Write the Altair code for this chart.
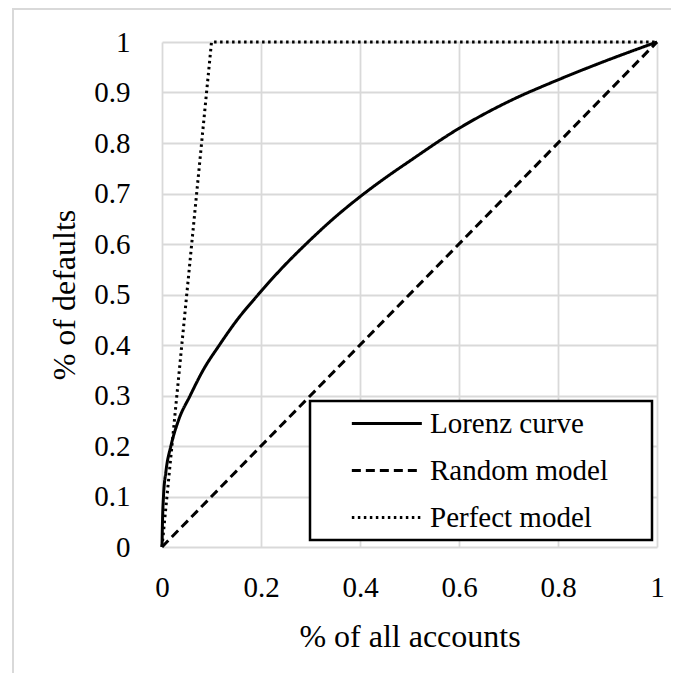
import altair as alt
import pandas as pd

# ---- data ----
series_names = ["Lorenz curve", "Random model", "Perfect model"]
lorenz_x = [0, 0.001, 0.003, 0.008, 0.018, 0.033, 0.057, 0.083, 0.116, 0.152, 0.191,
            0.245, 0.292, 0.346, 0.398, 0.447, 0.5, 0.6, 0.7, 0.8, 0.9, 1.0]
lorenz_y = [0, 0.05, 0.10, 0.15, 0.20, 0.25, 0.30, 0.35, 0.40, 0.45, 0.496,
            0.555, 0.601, 0.650, 0.692, 0.728, 0.764, 0.829, 0.882, 0.925, 0.964, 1.0]
random_x = [0, 1]
random_y = [0, 1]
perfect_x = [0, 0.1, 1]
perfect_y = [0, 1, 1]
x_ticks = [0, 0.2, 0.4, 0.6, 0.8, 1]
y_ticks = [0, 0.1, 0.2, 0.3, 0.4, 0.5, 0.6, 0.7, 0.8, 0.9, 1]

rows = []
for name, xs, ys in zip(series_names, [lorenz_x, random_x, perfect_x], [lorenz_y, random_y, perfect_y]):
    for i, (xv, yv) in enumerate(zip(xs, ys)):
        rows.append({"series": name, "x": xv, "y": yv, "i": i})
df = pd.DataFrame(rows)

FONT = "Liberation Serif"
GRID = "#d9d9d9"

legend_opts = dict(title=None, orient="none", legendX=187, legendY=367,
                   symbolType="M-1,0H5", symbolSize=544.4,
                   symbolStrokeWidth=3, labelOffset=52, labelLimit=400,
                   rowPadding=17, padding=0,
                   labelFont=FONT, labelFontSize=29, labelColor="black")

enc = dict(
    x=alt.X("x:Q", scale=alt.Scale(domain=[0, 1], nice=False),
            axis=alt.Axis(values=x_ticks, format="~g", title="% of all accounts",
                          grid=True, ticks=False, tickSize=0, domain=False, labelFlush=False,
                          labelPadding=26, titlePadding=19)),
    y=alt.Y("y:Q", scale=alt.Scale(domain=[0, 1], nice=False),
            axis=alt.Axis(values=y_ticks, format="~g", title="% of defaults",
                          grid=True, ticks=False, tickSize=0, domain=False, labelFlush=False,
                          labelPadding=32, titlePadding=12)),
    color=alt.Color("series:N", sort=series_names,
                    scale=alt.Scale(domain=series_names, range=["black", "black", "black"]),
                    legend=alt.Legend(**legend_opts)),
    strokeDash=alt.StrokeDash("series:N", sort=series_names,
                              scale=alt.Scale(domain=series_names,
                                              range=[[1, 0], [9, 5], [2.5, 3.5]]),
                              legend=alt.Legend(**legend_opts)),
    order="i:Q",
)

base = alt.Chart(df)
lorenz_line = base.transform_filter(alt.datum.series == "Lorenz curve").mark_line(
    strokeWidth=3, interpolate="monotone").encode(**enc)
model_lines = base.transform_filter(alt.datum.series != "Lorenz curve").mark_line(
    strokeWidth=3, interpolate="linear").encode(**enc)

legend_box = alt.Chart(alt.Data(values=[{}])).mark_rect(
    fill="white", stroke="black", strokeWidth=2.5
).encode(x=alt.value(148), x2=alt.value(490), y=alt.value(359), y2=alt.value(498))

frame_left = alt.Chart(alt.Data(values=[{}])).mark_rule(color=GRID, strokeWidth=2).encode(
    x=alt.value(-149), y=alt.value(-33), y2=alt.value(660))
frame_top = alt.Chart(alt.Data(values=[{}])).mark_rule(color=GRID, strokeWidth=2).encode(
    x=alt.value(-150), x2=alt.value(560), y=alt.value(-33))

chart = alt.layer(lorenz_line, model_lines, legend_box, frame_left, frame_top).properties(
    width=495, height=505,
    autosize=alt.AutoSizeParams(type="none"),
    padding={"left": 154, "top": 34, "right": 14, "bottom": 126},
    background="white",
).configure_view(stroke=None).configure_axis(
    gridColor=GRID, gridWidth=1.8,
    labelFont=FONT, labelFontSize=29, labelColor="black",
    titleFont=FONT, titleFontSize=32, titleColor="black", titleFontWeight="normal",
)

chart.save("out.html", embed_options={"renderer": "svg", "actions": False})
